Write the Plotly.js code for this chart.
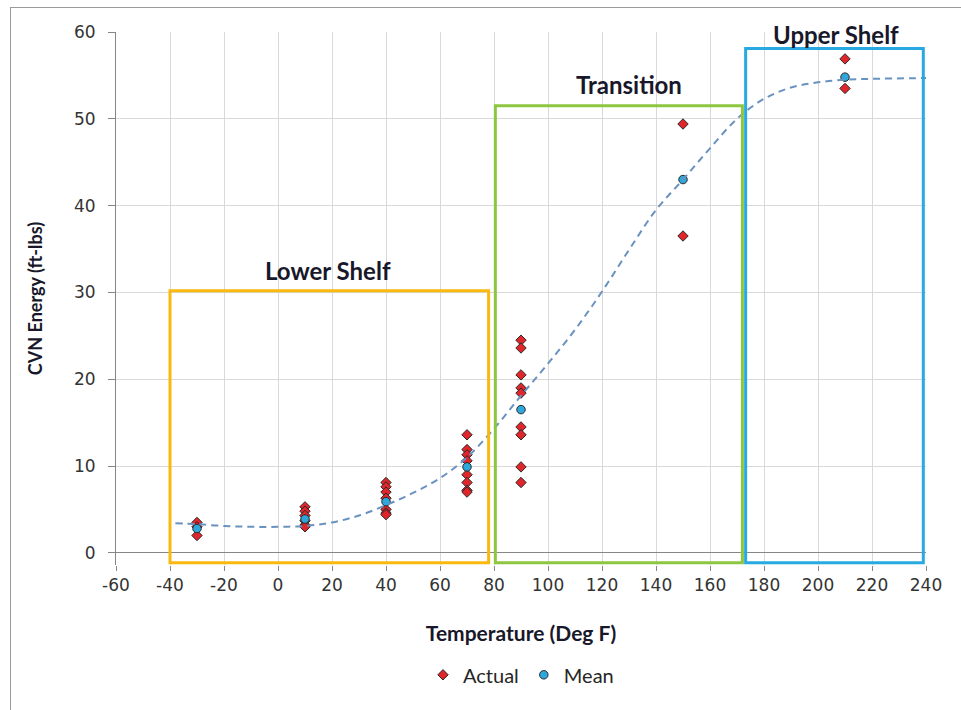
<!DOCTYPE html>
<html>
<head>
<meta charset="utf-8">
<script src="https://cdn.plot.ly/plotly-3.0.1.min.js"></script>
<style>
  html, body { margin: 0; padding: 0; background: #fff; }
  #chart { width: 961px; height: 710px; position: relative; }
  #frame { position: absolute; left: 10px; top: 7px; width: 1200px; height: 1200px;
           border-left: 1px solid #9a9a9a; border-top: 1px solid #9a9a9a; pointer-events: none; }
</style>
</head>
<body>
<div id="chart"></div>
<div id="frame"></div>
<script>
// ---- data ----
const actualTemp = [-30,-30,-30,
  10,10,10,10,10,10,
  40,40,40,40,40,40,40,
  70,70,70,70,70,70,70,70,
  90,90,90,90,90,90,90,90,90,
  150,150,
  210,210];
const actualEnergy = [3.5,3.0,2.0,
  5.3,4.8,4.3,3.7,3.2,3.0,
  8.1,7.6,7.0,6.3,5.0,4.6,4.4,
  13.6,11.9,11.3,10.6,9.0,8.1,7.2,7.0,
  24.5,23.6,20.5,19.0,18.4,14.5,13.6,9.9,8.1,
  49.4,36.5,
  56.9,53.5];

const meanTemp = [-30, 10, 40, 70, 90, 150, 210];
const meanEnergy = [2.8, 3.9, 5.9, 9.9, 16.5, 43.0, 54.8];

// fitted (trend) curve
const fitTemp = [-38,-30,-20,-10,0,10,20,30,40,50,60,70,80,90,100,110,120,130,140,150,160,170,180,190,200,210,220,240];
const fitEnergy = [3.4,3.3,3.1,3.0,3.0,3.1,3.5,4.3,5.5,6.9,8.6,11.0,14.3,18.1,21.8,25.7,30.1,34.9,39.5,43.0,46.6,50.0,52.3,53.6,54.2,54.5,54.6,54.7];

// region boxes in data units
const regionNames = ['Lower Shelf', 'Transition', 'Upper Shelf'];
const regionX0 = [-40, 80.5, 173.2];
const regionX1 = [78, 172, 239];
const regionY0 = [-1.15, -1.15, -1.15];
const regionY1 = [30.2, 51.5, 58.1];
const regionLabelX = [18.5, 130, 206.5];
const regionLabelY = [32.5, 53.9, 59.7];
const regionColors = ['#F9B90F', '#8DC641', '#29A9E1'];

const xTicks = [-60,-40,-20,0,20,40,60,80,100,120,140,160,180,200,220,240];
const yTicks = [0,10,20,30,40,50,60];

const CAL = 'Lato, "Open Sans", sans-serif';
const VER = '"DejaVu Sans", Verdana, sans-serif';

const traces = [
  {
    x: actualTemp, y: actualEnergy, type: 'scatter', mode: 'markers', name: 'Actual',
    marker: { symbol: 'diamond', size: 8, color: '#E0262B', line: { color: '#2a2a2a', width: 1 } }
  },
  {
    x: meanTemp, y: meanEnergy, type: 'scatter', mode: 'markers', name: 'Mean',
    marker: { symbol: 'circle', size: 8.5, color: '#2DA7DC', line: { color: '#2a2a2a', width: 1 } }
  },
  {
    x: fitTemp, y: fitEnergy, type: 'scatter', mode: 'lines', name: 'Fit', showlegend: false,
    line: { shape: 'spline', color: '#6A92C0', width: 2, dash: '7px,5px' }
  }
];

const shapes = regionNames.map((n, i) => ({
  type: 'rect', xref: 'x', yref: 'y',
  x0: regionX0[i], x1: regionX1[i], y0: regionY0[i], y1: regionY1[i],
  line: { color: regionColors[i], width: 3 }, fillcolor: 'rgba(0,0,0,0)', layer: 'above'
}));

const annotations = regionNames.map((n, i) => ({
  text: '<b>' + n + '</b>', x: regionLabelX[i], y: regionLabelY[i], xref: 'x', yref: 'y',
  showarrow: false, xanchor: 'center', yanchor: 'middle',
  font: { family: CAL, size: 24, color: '#18182a' }
}));

const layout = {
  width: 961, height: 710,
  margin: { l: 116, r: 35, t: 32, b: 145 },
  paper_bgcolor: '#ffffff', plot_bgcolor: '#ffffff',
  showlegend: true,
  legend: {
    orientation: 'h', x: 0.5, xanchor: 'center', y: -0.206, yanchor: 'middle',
    font: { family: CAL, size: 20, color: '#262626' },
    itemwidth: 30, tracegroupgap: 0
  },
  xaxis: {
    range: [-60, 240], tickvals: xTicks, ticktext: xTicks.map(String),
    showgrid: true, gridcolor: '#D9D9D9', gridwidth: 1,
    showline: false, zeroline: false,
    ticks: 'outside', ticklen: 5, tickcolor: '#868686',
    tickfont: { family: VER, size: 17, color: '#333333' },
    title: { text: '<b>Temperature (Deg F)</b>', standoff: 31,
             font: { family: CAL, size: 21, color: '#18182a' } }
  },
  yaxis: {
    range: [-1.4, 60], tickvals: yTicks, ticktext: yTicks.map(String),
    showgrid: true, gridcolor: '#D9D9D9', gridwidth: 1,
    showline: true, linecolor: '#868686', linewidth: 1,
    zeroline: true, zerolinecolor: '#868686', zerolinewidth: 1,
    ticks: 'outside', ticklen: 7, tickcolor: '#868686',
    ticklabelstandoff: 9,
    tickfont: { family: VER, size: 17, color: '#333333' },
    title: { text: '<b>CVN Energy (ft-lbs)</b>', standoff: 26,
             font: { family: CAL, size: 18, color: '#18182a' } }
  },
  shapes: shapes,
  annotations: annotations
};

Plotly.newPlot('chart', traces, layout, { displayModeBar: false, staticPlot: true });
</script>
</body>
</html>
